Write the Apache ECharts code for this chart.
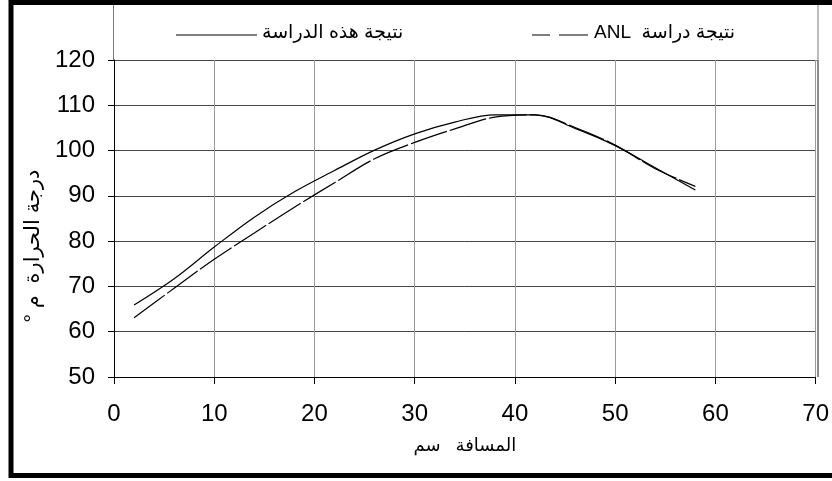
<!DOCTYPE html>
<html>
<head>
<meta charset="utf-8">
<script src="https://cdn.jsdelivr.net/npm/echarts@6/dist/echarts.min.js"></script>
<style>
  html, body { margin: 0; padding: 0; background: #fff; }
  #chart { width: 832px; height: 481px; }
</style>
</head>
<body>
<div id="chart"></div>
<script>
// Distance along the piece (cm)
const distance = [2, 6, 10, 14, 18, 22, 26, 30, 34, 38, 42, 46, 50, 54, 58];
// Temperature (°C) from this study
const thisStudy = [65.9, 71.7, 78.7, 85.3, 90.9, 95.6, 100.1, 103.7, 106.3, 107.9, 107.9, 104.9, 101.1, 96.2, 91.3];
// Temperature (°C) from the ANL study
const anlStudy = [63.1, 69.6, 76.0, 81.8, 87.5, 92.9, 98.2, 101.8, 104.8, 107.4, 107.9, 105.1, 101.2, 96.0, 92.1];

const xTicks = { min: 0, max: 70, step: 10 };
const yTicks = { min: 50, max: 120, step: 10 };

const nameThis = 'نتيجة هذه الدراسة';
// "ANL" is written first so that it sits at the left end of the Arabic phrase
const nameAnl = 'ANL  نتيجة دراسة';

const FONT = "'Liberation Sans', 'DejaVu Sans', Arial, sans-serif";

const pairs = (xs, ys) => xs.map((x, i) => [x, ys[i]]);

const chart = echarts.init(document.getElementById('chart'), null, { renderer: 'canvas' });

// key entries drawn in the frame above the plot
const keyY = 35;
const keyText = { fontFamily: FONT, fontSize: 19, fill: '#000', textVerticalAlign: 'middle', textAlign: 'left' };

chart.setOption({
  animation: false,
  backgroundColor: '#ffffff',
  grid: { left: 114, right: 14, top: 60, bottom: 104, containLabel: false },
  xAxis: {
    type: 'value',
    min: xTicks.min, max: xTicks.max, interval: xTicks.step,
    name: 'المسافة   سم',
    nameLocation: 'middle',
    nameGap: 60,
    nameTextStyle: { fontFamily: FONT, fontSize: 18, color: '#000' },
    axisLine: { show: true, onZero: false, lineStyle: { color: '#000', width: 1 } },
    axisTick: { show: true, length: 7, lineStyle: { color: '#000' } },
    axisLabel: { fontFamily: FONT, fontSize: 24, color: '#000', margin: 25 },
    splitLine: { show: true, lineStyle: { color: '#9a9a9a', width: 1 } },
  },
  yAxis: {
    type: 'value',
    min: yTicks.min, max: yTicks.max, interval: yTicks.step,
    name: '° درجة الحرارة  م',
    nameLocation: 'middle',
    nameGap: 68,
    nameRotate: 90,
    nameTextStyle: { fontFamily: FONT, fontSize: 21, color: '#000', padding: [0, 55, 0, 0] },
    axisLine: { show: true, lineStyle: { color: '#000', width: 1 } },
    axisTick: { show: true, length: 6, lineStyle: { color: '#000' } },
    axisLabel: { fontFamily: FONT, fontSize: 24, color: '#000', margin: 19 },
    splitLine: { show: true, lineStyle: { color: '#454545', width: 1 } },
  },
  series: [
    {
      name: nameThis,
      type: 'line',
      data: pairs(distance, thisStudy),
      smooth: 0.35,
      symbol: 'none',
      lineStyle: { color: '#000', width: 1.2, type: 'solid' },
      itemStyle: { color: '#000' },
      z: 3,
    },
    {
      name: nameAnl,
      type: 'line',
      data: pairs(distance, anlStudy),
      smooth: 0.35,
      symbol: 'none',
      lineStyle: { color: '#000', width: 1.2, type: [38, 3] },
      itemStyle: { color: '#000' },
      z: 3,
    }
  ],
  graphic: [
    // frame above the plot holding the key
    {
      type: 'rect', silent: true, z: 0,
      shape: { x: 113.5, y: 4.5, width: 704.5, height: 56 },
      style: { fill: 'none', stroke: '#7a7a7a', lineWidth: 1 }
    },
    // key: this study (solid)
    {
      type: 'line', silent: true, z: 5,
      shape: { x1: 176, y1: keyY, x2: 257, y2: keyY },
      style: { stroke: '#000', lineWidth: 1 }
    },
    {
      type: 'text', silent: true, z: 5, x: 262, y: keyY - 2,
      style: Object.assign({ text: nameThis }, keyText)
    },
    // key: ANL study (dashed, two strokes)
    {
      type: 'line', silent: true, z: 5,
      shape: { x1: 532, y1: keyY, x2: 550, y2: keyY },
      style: { stroke: '#000', lineWidth: 1 }
    },
    {
      type: 'line', silent: true, z: 5,
      shape: { x1: 559, y1: keyY, x2: 588, y2: keyY },
      style: { stroke: '#000', lineWidth: 1 }
    },
    {
      type: 'text', silent: true, z: 5, x: 594, y: keyY - 2,
      style: Object.assign({ text: nameAnl }, keyText)
    },
    // right edge of the plot area
    {
      type: 'line', silent: true, z: 0,
      shape: { x1: 818, y1: 60, x2: 818, y2: 377 },
      style: { stroke: '#8a8a8a', lineWidth: 2 }
    },
    // outer frame
    {
      type: 'rect', silent: true, z: 10,
      shape: { x: 11, y: 2.5, width: 840, height: 473 },
      style: { fill: 'none', stroke: '#000', lineWidth: 5 }
    }
  ]
});
</script>
</body>
</html>
